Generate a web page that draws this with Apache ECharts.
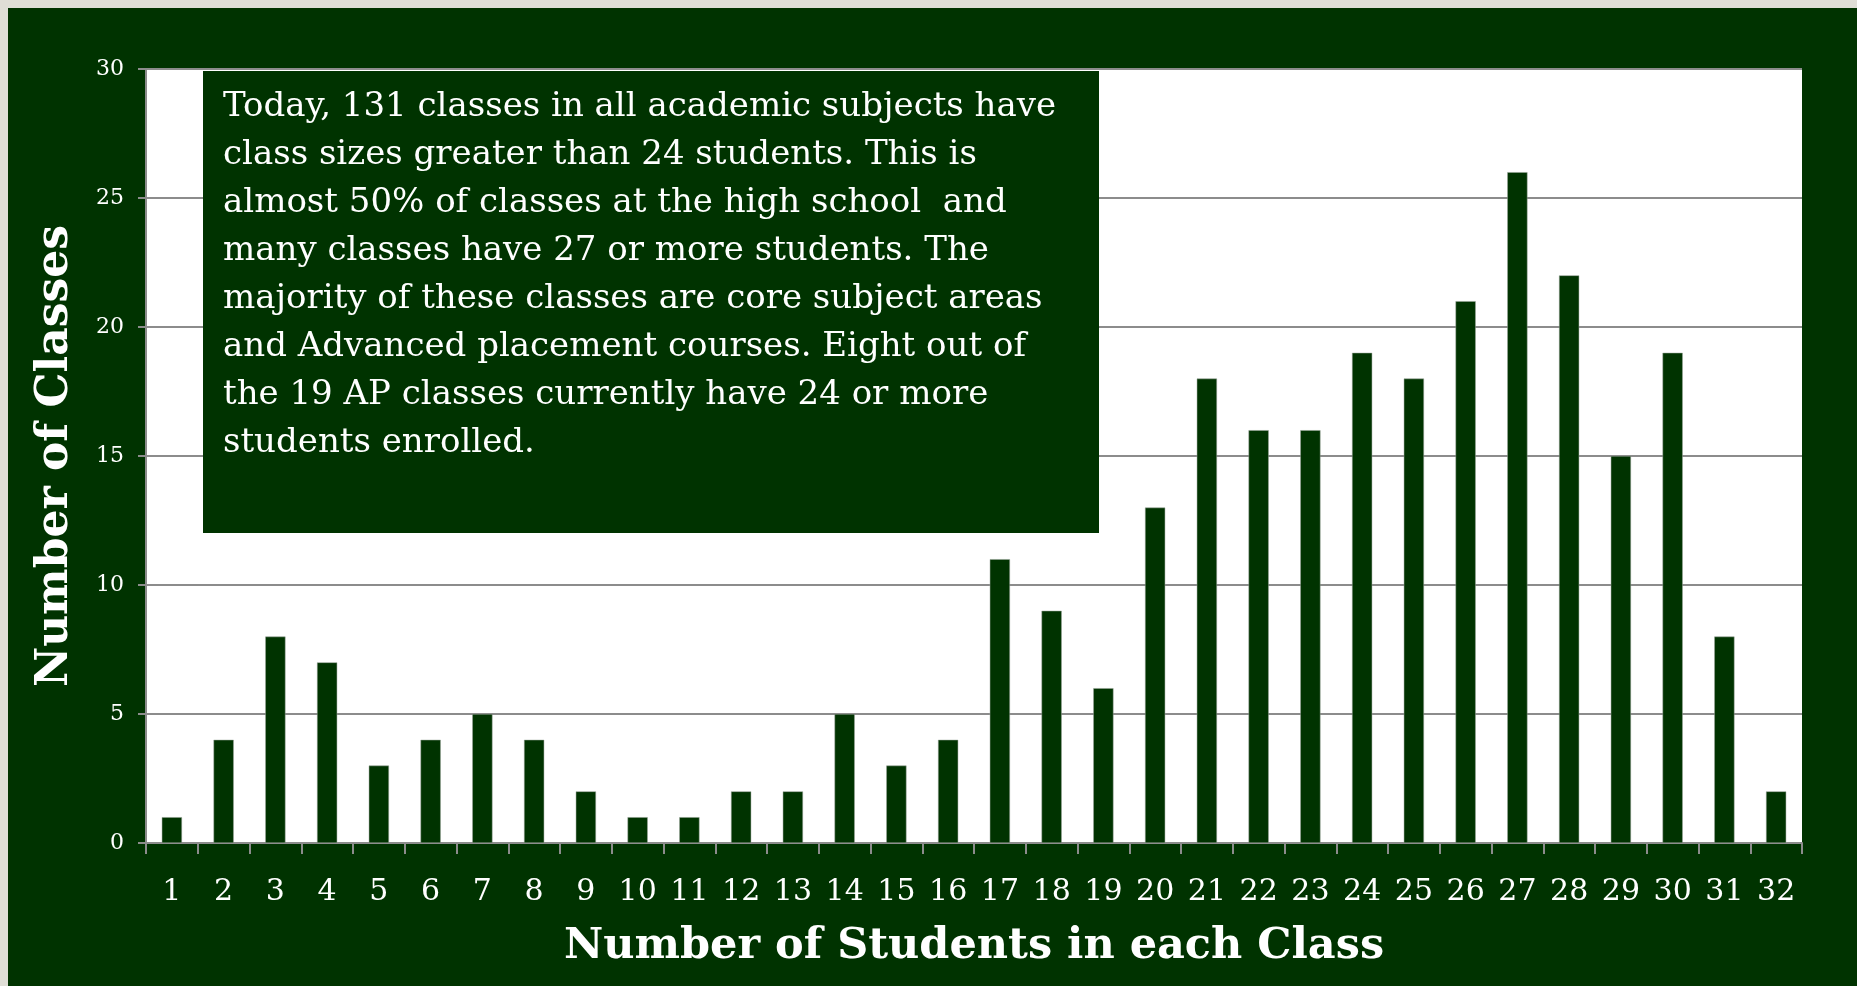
<!DOCTYPE html>
<html>
<head>
<meta charset="utf-8">
<script src="https://cdn.jsdelivr.net/npm/echarts@6/dist/echarts.min.js"></script>
<style>
    html, body { margin: 0; padding: 0; background: #dfded6; overflow: hidden; }
    #chart { position: absolute; left: 8px; top: 8px; width: 1849px; height: 978px; }
</style>
</head>
<body>
<div id="chart"></div>
<script>
// class size (students) -> number of classes
const classSizes = ['1','2','3','4','5','6','7','8','9','10','11','12','13','14','15','16',
    '17','18','19','20','21','22','23','24','25','26','27','28','29','30','31','32'];
const classCounts = [1, 4, 8, 7, 3, 4, 5, 4, 2, 1, 1, 2, 2, 5, 3, 4,
    11, 9, 6, 13, 18, 16, 16, 19, 18, 21, 26, 22, 15, 19, 8, 2];
const yTicks = { min: 0, max: 30, interval: 5 };
const noteLines = [
    'Today, 131 classes in all academic subjects have',
    'class sizes greater than 24 students. This is',
    'almost 50% of classes at the high school  and',
    'many classes have 27 or more students. The',
    'majority of these classes are core subject areas',
    'and Advanced placement courses. Eight out of',
    'the 19 AP classes currently have 24 or more',
    'students enrolled.'
];

const green = '#003300';
const serif = '"DejaVu Serif", "Liberation Serif", serif';

const chart = echarts.init(document.getElementById('chart'));
const option = {
    backgroundColor: green,
    animation: false,
    grid: { left: 138, top: 61, width: 1656, height: 774 },
    xAxis: {
        type: 'category',
        data: classSizes,
        name: 'Number of Students in each Class',
        nameLocation: 'middle',
        nameGap: 82,
        nameTextStyle: { color: '#fff', fontFamily: serif, fontWeight: 'bold', fontSize: 43 },
        axisLine: { lineStyle: { color: '#8c8c8c', width: 2 } },
        axisTick: { show: true, length: 11, lineStyle: { color: '#8c8c8c', width: 2 } },
        axisLabel: { color: '#fff', fontFamily: serif, fontSize: 30, margin: 34, interval: 0 }
    },
    yAxis: {
        type: 'value',
        min: yTicks.min,
        max: yTicks.max,
        interval: yTicks.interval,
        name: 'Number of Classes',
        nameLocation: 'middle',
        nameGap: 68,
        nameTextStyle: { color: '#fff', fontFamily: serif, fontWeight: 'bold', fontSize: 44 },
        axisLine: { show: true, lineStyle: { color: '#8c8c8c', width: 2 } },
        axisTick: { show: true, length: 8, lineStyle: { color: '#8c8c8c', width: 2 } },
        axisLabel: { color: '#fff', fontFamily: serif, fontSize: 22, margin: 22 },
        splitLine: { lineStyle: { color: '#8c8c8c', width: 2 } },
        splitArea: { show: true, areaStyle: { color: ['#ffffff'] } }
    },
    series: [{
        type: 'bar',
        data: classCounts,
        barWidth: '39%',
        itemStyle: { color: green, borderColor: '#9aa59a', borderWidth: 0.5 }
    }],
    graphic: [
        {
            type: 'rect',
            left: 195, top: 63,
            shape: { width: 896, height: 462 },
            style: { fill: green },
            z: 100
        },
        {
            type: 'text',
            left: 215, top: 75,
            style: {
                text: noteLines.join('\n'),
                fill: '#fff',
                font: '34px ' + serif,
                lineHeight: 48
            },
            z: 101
        }
    ]
};
chart.setOption(option);
</script>
</body>
</html>
